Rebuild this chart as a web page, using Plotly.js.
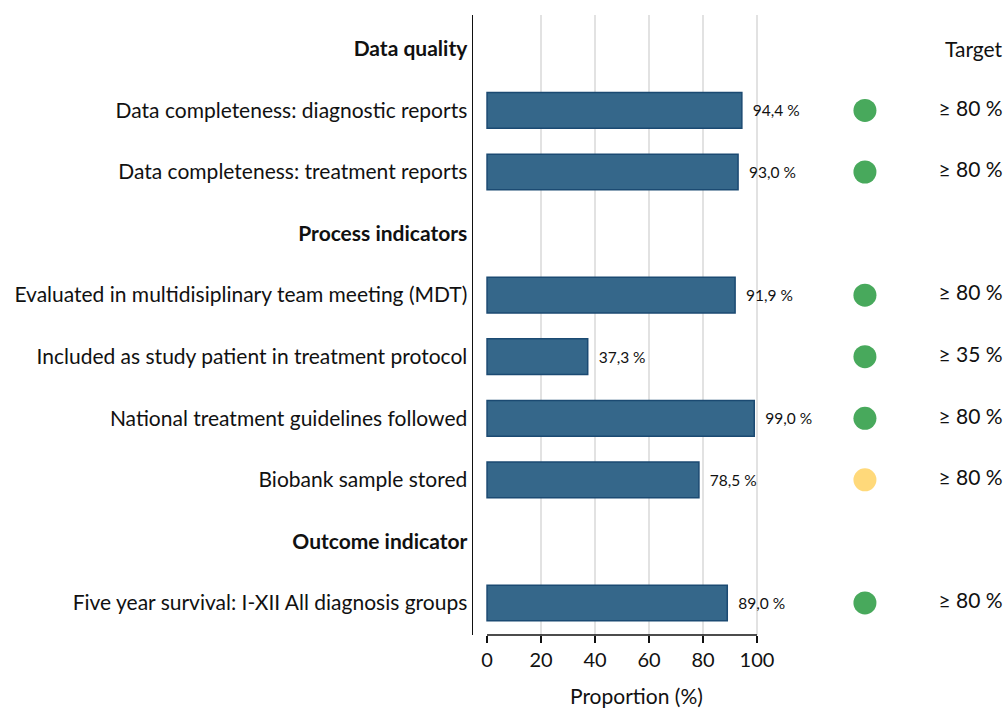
<!DOCTYPE html>
<html>
<head>
<meta charset="utf-8">
<script src="https://cdn.plot.ly/plotly-3.0.1.min.js"></script>
<style>html,body{margin:0;padding:0;background:#fff;}#chart{width:1008px;height:709px;}</style>
</head>
<body>
<div id="chart"></div>
<script>
// ---- data ----
const categories = [
  "<b>Data quality</b>",
  "Data completeness: diagnostic reports",
  "Data completeness: treatment reports",
  "<b>Process indicators</b>",
  "Evaluated in multidisiplinary team meeting (MDT)",
  "Included as study patient in treatment protocol",
  "National treatment guidelines followed",
  "Biobank sample stored",
  "<b>Outcome indicator</b>",
  "Five year survival: I-XII All diagnosis groups"
];
const values = [null, 94.4, 93.0, null, 91.9, 37.3, 99.0, 78.5, null, 89.0];
const status = [null, "met", "met", null, "met", "met", "met", "near", null, "met"];
const targets = ["", "≥ 80 %", "≥ 80 %", "", "≥ 80 %", "≥ 35 %", "≥ 80 %", "≥ 80 %", "", "≥ 80 %"];
const xTicks = [0, 20, 40, 60, 80, 100];
const targetHeader = "Target";
const xTitle = "Proportion (%)";

// ---- styling ----
const FONT = "Lato, 'Liberation Sans', sans-serif";
const statusColor = {met: "#48a95c", near: "#ffd97a"};
const dotX = 140;      // position of status dots (axis units)
const targetX = 191;   // right edge of target column (axis units)

const hasVal = values.map(v => v !== null);
const dotCats = categories.filter((c, i) => hasVal[i]);
const dotColors = status.filter((s, i) => hasVal[i]).map(s => statusColor[s]);
const tgtCats = categories.filter((c, i) => hasVal[i]);
const tgtText = targets.filter((t, i) => hasVal[i]);

const traces = [
  {
    type: "bar", orientation: "h",
    y: categories, x: values,
    marker: {color: "#35678a", line: {color: "#1b4a72", width: 1.5}},
    width: 0.58,
    texttemplate: "  %{x:.1f} %",
    textposition: "outside",
    textfont: {family: FONT, size: 15.5, color: "#111"},
    cliponaxis: false,
    hoverinfo: "skip"
  },
  {
    type: "scatter", mode: "markers",
    y: dotCats, x: dotCats.map(() => dotX),
    marker: {size: 23, color: dotColors},
    hoverinfo: "skip"
  },
  {
    type: "scatter", mode: "text",
    y: tgtCats, x: tgtCats.map(() => targetX),
    text: tgtText, textposition: "middle left",
    textfont: {family: FONT, size: 21, color: "#111"},
    cliponaxis: false,
    hoverinfo: "skip"
  }
];

const layout = {
  width: 1008, height: 709,
  margin: {l: 473, r: 0, t: 15, b: 74},
  paper_bgcolor: "#fff", plot_bgcolor: "#fff",
  showlegend: false,
  separators: ", ",
  font: {family: FONT, color: "#111"},
  xaxis: {
    range: [-5.2, 193],
    tickmode: "array", tickvals: xTicks, ticktext: xTicks.map(String),
    ticks: "outside", ticklen: 7, tickwidth: 1.5, tickcolor: "#111",
    tickfont: {family: FONT, size: 20, color: "#111"},
    showgrid: true, gridcolor: "#e2e2e2", gridwidth: 2,
    zeroline: true, zerolinecolor: "rgba(0,0,0,0)",
    showline: false, fixedrange: true, automargin: false
  },
  yaxis: {
    type: "category", range: [9.52, -0.55],
    showline: true, linecolor: "#111", linewidth: 1.5,
    ticks: "", showgrid: false, zeroline: false,
    tickfont: {family: FONT, size: 21, color: "#111"},
    ticklabelstandoff: 0,
    fixedrange: true, automargin: false
  },
  shapes: [
    {type: "line", xref: "x", yref: "paper", x0: xTicks[0], x1: xTicks[xTicks.length - 1], y0: 0, y1: 0,
     line: {color: "#111", width: 1.5}}
  ],
  annotations: [
    {text: targetHeader, xref: "paper", yref: "y", x: 0.994, y: categories[0],
     xanchor: "right", yanchor: "middle", showarrow: false,
     font: {family: FONT, size: 21, color: "#111"}},
    {text: xTitle, xref: "x", yref: "paper", x: 55.5, y: 0, yshift: -60,
     xanchor: "center", yanchor: "middle", showarrow: false,
     font: {family: FONT, size: 21, color: "#111"}}
  ]
};

Plotly.newPlot("chart", traces, layout, {displayModeBar: false, staticPlot: true});
</script>
</body>
</html>
